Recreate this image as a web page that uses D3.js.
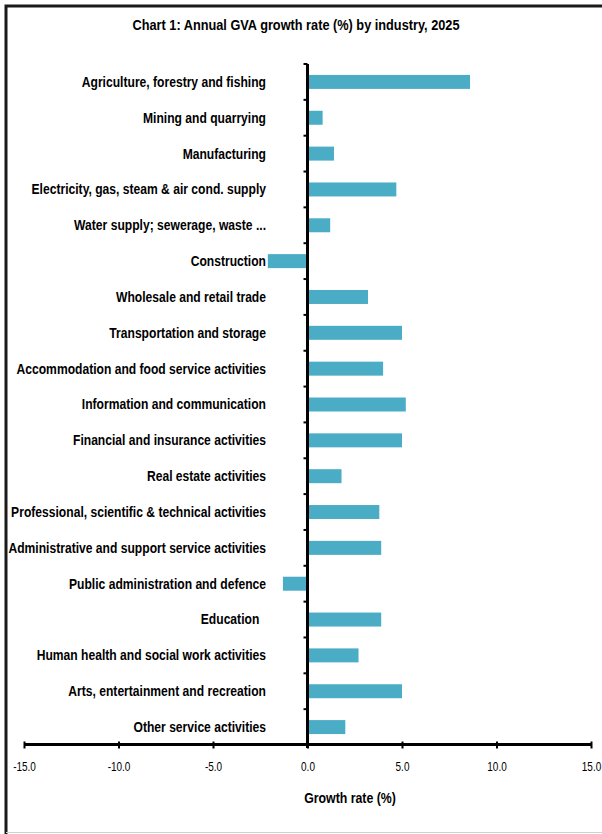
<!DOCTYPE html>
<html><head><meta charset="utf-8">
<script src="https://cdn.jsdelivr.net/npm/d3@7"></script>
<style>
body{margin:0;background:#fff;}
svg{display:block;}
text{font-family:"Liberation Sans Narrow","Arial Narrow","Liberation Sans",Arial,sans-serif;fill:#000;white-space:pre;}
</style></head><body>
<svg id="c" width="602" height="834"></svg>
<script>
const categories = [
  "Agriculture, forestry and fishing",
  "Mining and quarrying",
  "Manufacturing",
  "Electricity, gas, steam & air cond. supply",
  "Water supply; sewerage, waste ...",
  "Construction",
  "Wholesale and retail trade",
  "Transportation and storage",
  "Accommodation and food service activities",
  "Information and communication",
  "Financial and insurance activities",
  "Real estate activities",
  "Professional, scientific & technical activities",
  "Administrative and support service activities",
  "Public administration and defence",
  "Education  ",
  "Human health and social work activities",
  "Arts, entertainment and recreation",
  "Other service activities"
];
const growth = [8.6, 0.8, 1.4, 4.7, 1.2, -2.1, 3.2, 5.0, 4.0, 5.2, 5.0, 1.8, 3.8, 3.9, -1.3, 3.9, 2.7, 5.0, 2.0];
const xTicks = [-15, -10, -5, 0, 5, 10, 15];
const title = "Chart 1: Annual GVA growth rate (%) by industry, 2025";
const xTitle = "Growth rate (%)";

const svg = d3.select("#c");
// frame
svg.append("path").attr("d","M 6 834 L 6 6 L 610 6").attr("fill","none").attr("stroke","#1a1a1a").attr("stroke-width",3);
svg.append("line").attr("x1",6).attr("x2",602).attr("y1",832.5).attr("y2",832.5).attr("stroke","#d0d0d0").attr("stroke-width",1);

const x = d3.scaleLinear().domain([-15,15]).range([24,591]);
const y = d3.scaleBand().domain(categories).range([64,745]).paddingInner(0.61).paddingOuter(0.305);
const band = d3.scaleBand().domain(categories).range([64,745]);

function narrow(sel, tx, ty, sx){
  sel.attr("x",0).attr("y",0).attr("transform",(d,i)=>`translate(${typeof tx==="function"?tx(d,i):tx},${typeof ty==="function"?ty(d,i):ty}) scale(${sx},1)`);
}

svg.append("text").attr("text-anchor","middle").attr("dy","0.35em")
  .attr("font-size",15).attr("font-weight","bold").text(title)
  .call(narrow, 296, 25, 0.85);

// bars
svg.append("g").selectAll("rect").data(growth).join("rect")
  .attr("x",(d)=>x(Math.min(0,d)))
  .attr("width",(d)=>Math.abs(x(d)-x(0)))
  .attr("y",(d,i)=>y(categories[i]))
  .attr("height",y.bandwidth())
  .attr("fill","#4bacc6");

// category labels
svg.append("g").selectAll("text").data(categories).join("text")
  .attr("dy","0.35em")
  .attr("text-anchor","end")
  .attr("font-size",14).attr("font-weight","bold")
  .text((d)=>d)
  .call(narrow, 266, (d)=>band(d)+band.bandwidth()/2, 0.865);

// y axis (at zero)
const yAxis = d3.axisLeft(band).tickSize(0).tickFormat("");
const yg = svg.append("g").attr("transform",`translate(${x(0)},0)`).call(yAxis);
yg.select(".domain").attr("stroke","#000").attr("stroke-width",3).attr("d",`M0,64V748`);
const bounds = categories.map(c=>band(c)).concat([745]);
yg.selectAll("line.bt").data(bounds).join("line").attr("class","bt")
  .attr("x1",-4).attr("x2",0).attr("y1",d=>d).attr("y2",d=>d)
  .attr("stroke","#000").attr("stroke-width",2);

// x axis
const xAxis = d3.axisBottom(x).tickValues(xTicks).tickSize(5).tickFormat(d=>d.toFixed(1));
const xg = svg.append("g").attr("transform","translate(0,744.5)").call(xAxis);
xg.select(".domain").attr("stroke","#000").attr("stroke-width",3).attr("d",`M${x(-15)},0H${x(15)}`);
xg.selectAll(".tick line").attr("stroke","#000").attr("stroke-width",2).attr("y1",-3).attr("y2",4);
xg.selectAll(".tick text").attr("dy","0.35em").attr("font-size",12.5)
  .attr("font-family","'Liberation Sans Narrow','Arial Narrow','Liberation Sans',sans-serif").attr("fill","#000")
  .call(narrow, 0, 22, 0.8);

svg.append("text").attr("dy","0.35em").attr("text-anchor","middle")
  .attr("font-size",14.5).attr("font-weight","bold").text(xTitle)
  .call(narrow, 350, 798, 0.85);
</script>
</body></html>
